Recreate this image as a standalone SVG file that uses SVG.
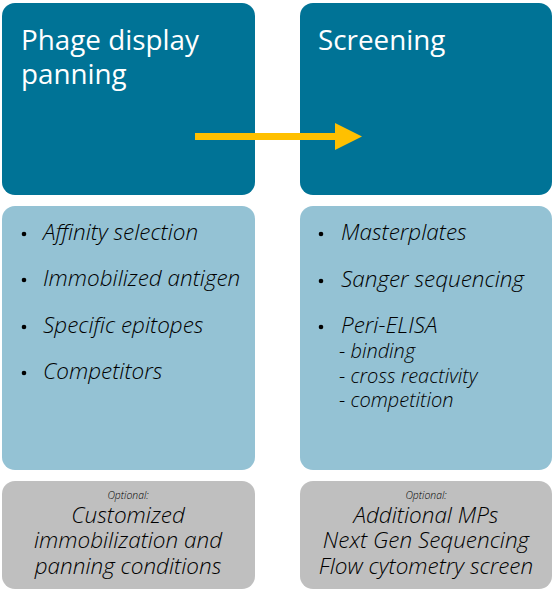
<svg xmlns="http://www.w3.org/2000/svg" width="557" height="593" viewBox="0 0 557 593">
<style>
.dk{fill:#007396}
.lt{fill:#94c2d4}
.gy{fill:#bfbfbf}
.ttl{font-family:"Open Sans","Liberation Sans",sans-serif;font-size:27.8px;fill:#fff}
.it{font-family:"Open Sans","Liberation Sans",sans-serif;font-style:italic;font-weight:360;font-size:22.5px;fill:#000}
.sub{font-family:"Open Sans","Liberation Sans",sans-serif;font-style:italic;font-weight:360;font-size:20px;fill:#000}
.opt{font-family:"Open Sans","Liberation Sans",sans-serif;font-style:italic;font-weight:360;font-size:10.4px;fill:#000;text-anchor:middle}
.big{font-family:"Open Sans","Liberation Sans",sans-serif;font-style:italic;font-weight:360;font-size:22.5px;fill:#000;text-anchor:middle}
.dot{fill:#000}
</style>
<rect width="557" height="593" fill="#fff"/>
<g id="phage-display">
<rect class="dk" x="2" y="3" width="253" height="192" rx="13"/>
<text class="ttl" x="21" y="50">Phage display</text>
<text class="ttl" x="21" y="84">panning</text>
</g>
<g id="screening">
<rect class="dk" x="300" y="3" width="252" height="192" rx="13"/>
<text class="ttl" x="318" y="50">Screening</text>
</g>
<g id="phage-details">
<rect class="lt" x="2" y="206" width="253" height="264" rx="13"/>
<circle class="dot" cx="24" cy="234" r="2.3"/>
<text class="it" x="43" y="240">Affinity selection</text>
<circle class="dot" cx="24" cy="280" r="2.3"/>
<text class="it" x="43" y="286">Immobilized antigen</text>
<circle class="dot" cx="24" cy="327" r="2.3"/>
<text class="it" x="43" y="333">Specific epitopes</text>
<circle class="dot" cx="24" cy="373" r="2.3"/>
<text class="it" x="43" y="379">Competitors</text>
</g>
<g id="screening-details">
<rect class="lt" x="300" y="206" width="252" height="264" rx="13"/>
<circle class="dot" cx="321" cy="234" r="2.3"/>
<text class="it" x="341" y="240">Masterplates</text>
<circle class="dot" cx="321" cy="281" r="2.3"/>
<text class="it" x="341" y="287">Sanger sequencing</text>
<circle class="dot" cx="321" cy="327" r="2.3"/>
<text class="it" x="341" y="333">Peri-ELISA</text>
<text class="sub" x="339" y="358">- binding</text>
<text class="sub" x="339" y="383">- cross reactivity</text>
<text class="sub" x="339" y="407">- competition</text>
</g>
<g id="phage-optional">
<rect class="gy" x="2" y="481" width="253" height="108" rx="13"/>
<text class="opt" x="128" y="499">Optional:</text>
<text class="big" x="128" y="523">Customized</text>
<text class="big" x="128" y="548">immobilization and</text>
<text class="big" x="128" y="574">panning conditions</text>
</g>
<g id="screening-optional">
<rect class="gy" x="300" y="481" width="252" height="108" rx="13"/>
<text class="opt" x="426" y="499">Optional:</text>
<text class="big" x="426" y="523">Additional MPs</text>
<text class="big" x="426" y="548">Next Gen Sequencing</text>
<text class="big" x="426" y="574">Flow cytometry screen</text>
</g>
<g id="connectors">
<rect x="195" y="133" width="141" height="7" fill="#ffc000"/>
<polygon points="335,123 362,136.5 335,150" fill="#ffc000"/>
</g>
</svg>
